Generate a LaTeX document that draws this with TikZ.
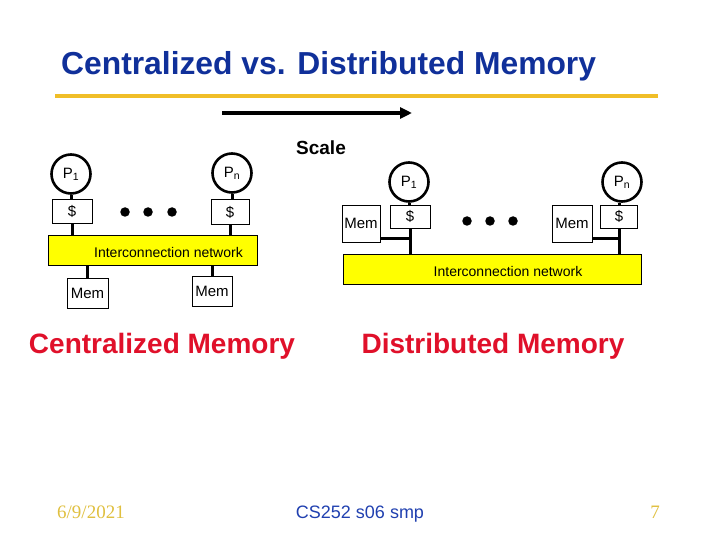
\documentclass[tikz,border=0pt]{standalone}
\usepackage{fontspec}
\setmainfont{Liberation Sans}
\newfontfamily\timesf{Liberation Serif}
\usetikzlibrary{arrows.meta}
\definecolor{titleblue}{HTML}{10309A}
\definecolor{goldline}{HTML}{F0BE28}
\definecolor{redtxt}{HTML}{E0102A}
\definecolor{footgold}{HTML}{E0C040}
\definecolor{footblue}{HTML}{2040B0}
\definecolor{netyellow}{HTML}{FFFF00}
\begin{document}
\begin{tikzpicture}[x=1pt,y=-1pt,
  proc/.style={circle,draw,line width=2.6pt,minimum size=39pt,inner sep=0pt,font=\fontsize{15}{15}\selectfont},
  cachebox/.style={draw,line width=0.6pt,minimum width=40pt,minimum height=24pt,inner sep=0pt,font=\fontsize{15}{15}\selectfont},
  membox/.style={draw,line width=0.6pt,minimum width=40pt,minimum height=30pt,inner sep=0pt,font=\fontsize{15}{15}\selectfont},
  netbox/.style={draw,line width=0.8pt,fill=netyellow,minimum height=30pt,inner sep=0pt},
  nettext/.style={font=\fontsize{14}{14}\selectfont,inner sep=0pt},
  wire/.style={line width=3pt},
  dotn/.style={circle,fill=black,minimum size=9.5pt,inner sep=0pt},
  bigred/.style={text=redtxt,font=\bfseries\fontsize{28}{28}\selectfont,inner sep=0pt}
]
\useasboundingbox (0,0) rectangle (720,540);
\fill[white] (0,0) rectangle (720,540);

% title
\node[anchor=base west,text=titleblue,font=\bfseries\fontsize{31.8}{31.8}\selectfont,inner sep=0pt] (title) at (61,75) {Centralized vs. Distributed Memory};
\coordinate (gl1) at (55,96);
\coordinate (gl2) at (658,96);
\draw[goldline,line width=4pt] (gl1) -- (gl2);

% scale arrow
\coordinate (sa1) at (222,113);
\coordinate (sa2) at (412,113);
\draw[line width=4pt,-{Triangle[length=12pt,width=11pt]}] (sa1) -- (sa2);
\node[anchor=base,font=\bfseries\fontsize{19}{19}\selectfont,inner sep=0pt] (scale) at (321,155) {Scale};

% ---------- centralized ----------
\node[proc] (P1L) at (71,174) {P\textsubscript{1}};
\node[proc] (PnL) at (232,173) {P\textsubscript{n}};
\node[cachebox] (CL1) at (72,211) {\$};
\node[cachebox,minimum width=38pt,minimum height=25pt] (CLn) at (230,212) {\$};
\node[dotn] (dl1) at (125,212) {};
\node[dotn] (dl2) at (148,212) {};
\node[dotn] (dl3) at (172,212) {};
\node[netbox,minimum width=209pt,label={[nettext,xshift=16pt,yshift=-2pt]center:Interconnection network}] (NL) at (152.5,250) {};
\node[membox,minimum width=41pt] (ML1) at (87.5,293) {\raisebox{-2pt}{Mem}};
\node[membox] (MLn) at (212,291) {Mem};

\draw[wire] (P1L.south) -- (P1L.south |- CL1.north);
\draw[wire] (PnL.south) -- (PnL.south |- CLn.north);
\draw[wire] (CL1.south) -- (CL1.south |- NL.north);
\draw[wire] (CLn.south) -- (CLn.south |- NL.north);
\draw[wire] (ML1.north |- NL.south) -- (ML1.north);
\draw[wire] (MLn.north |- NL.south) -- (MLn.north);

% ---------- distributed ----------
\node[proc] (P1R) at (409,182) {P\textsubscript{1}};
\node[proc] (PnR) at (622,182) {P\textsubscript{n}};
\node[cachebox,minimum height=23pt] (CR1) at (410,216.5) {\$};
\node[cachebox,minimum width=37pt,minimum height=23pt] (CRn) at (619,216.5) {\$};
\node[membox,minimum width=38pt,minimum height=37pt] (MR1) at (361,223.5) {\raisebox{-5pt}{Mem}};
\node[membox,minimum width=40pt,minimum height=37pt] (MRn) at (572,223.5) {\raisebox{-5pt}{Mem}};
\node[dotn] (dr1) at (467,221) {};
\node[dotn] (dr2) at (490,221) {};
\node[dotn] (dr3) at (513,221) {};
\node[netbox,minimum width=298pt,label={[nettext,xshift=16pt,yshift=-2pt]center:Interconnection network}] (NR) at (492,269) {};

\coordinate (yj) at (0,238);
\draw[wire] (P1R.south) -- (P1R.south |- CR1.north);
\draw[wire] (PnR.south -| CRn.south) -- (CRn.north);
\draw[wire] (CR1.south) -- (CR1.south |- NR.north);
\draw[wire] (CRn.south) -- (CRn.south |- NR.north);
\draw[wire] (MR1.east |- yj) -- (CR1.south |- yj);
\draw[wire] (MRn.east |- yj) -- (CRn.south |- yj);

% captions
\node[bigred,anchor=base] (capL) at (162,353) {Centralized Memory};
\node[bigred,anchor=base] (capR) at (493,353) {Distributed Memory};

% footer
\node[anchor=base west,text=footgold,font=\timesf\fontsize{19}{19}\selectfont,inner sep=0pt] (date) at (57,518) {6/9/2021};
\node[anchor=base,text=footblue,font=\fontsize{18}{18}\selectfont,inner sep=0pt] (course) at (360,518) {CS252 s06 smp};
\node[anchor=base,text=footgold,font=\timesf\fontsize{19}{19}\selectfont,inner sep=0pt] (pg) at (655,518) {7};
\end{tikzpicture}
\end{document}
